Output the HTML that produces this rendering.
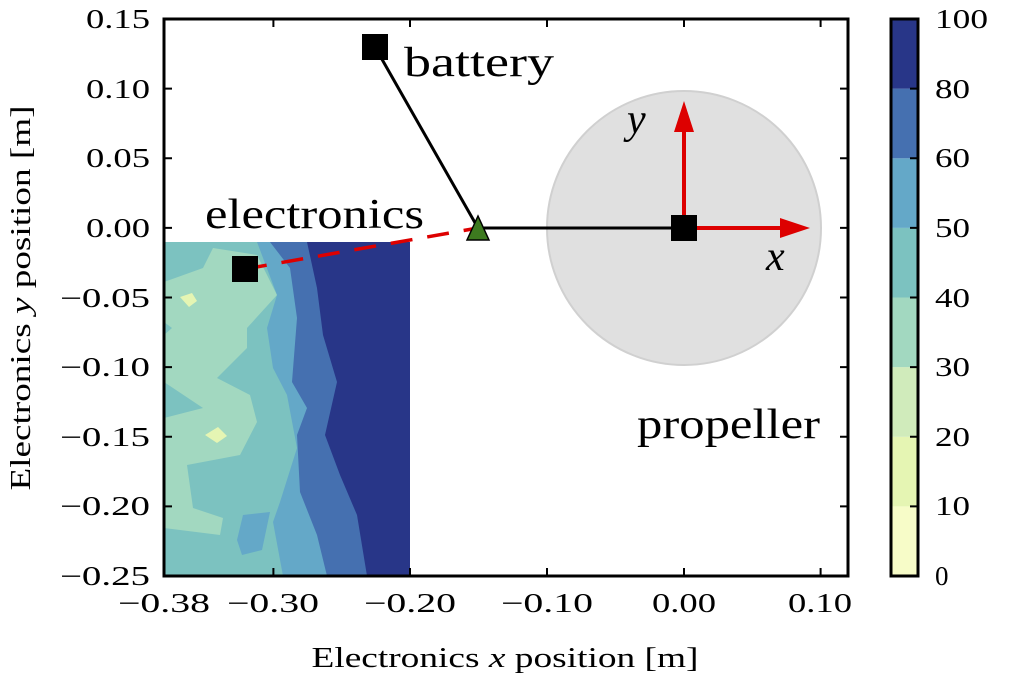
<!DOCTYPE html>
<html><head><meta charset="utf-8"><style>
html,body{margin:0;padding:0;background:#fff}
text{font-family:"Liberation Serif",serif;fill:#000}
</style></head><body>
<svg width="1024" height="680" viewBox="0 0 1024 680" xmlns="http://www.w3.org/2000/svg">
<defs><clipPath id="c"><rect x="164" y="242" width="246" height="334"/></clipPath></defs>
<g clip-path="url(#c)">
<rect x="164" y="242" width="246" height="334" fill="#7cc2c0"/>
<polygon fill="#a2d8c0" points="164,282 203,268 213,248 257,255 277,295 247,328 247,348 217,378 250,395 257,422 240,455 187,465 193,508 223,518 220,535 164,528"/>
<polygon fill="#7cc2c0" points="164,382 203,408 164,418"/>
<polygon fill="#7cc2c0" points="164,322 172,328 164,335"/>
<polygon fill="#e5f5b3" points="180,297 192,293 197,301 189,307"/>
<polygon fill="#e5f5b3" points="205,435 218,427 227,436 217,443"/>
<polygon fill="#64a8c8" points="257,242 410,242 410,576 283,576 273,522 280,502 297,448 287,395 273,368 267,328 277,295"/>
<polygon fill="#64a8c8" points="243,515 270,512 262,550 242,555 237,540"/>
<polygon fill="#4570b0" points="270,242 410,242 410,576 327,576 317,535 300,492 297,435 307,408 292,382 297,318 290,268"/>
<polygon fill="#283688" points="307,242 410,242 410,576 367,576 357,515 340,475 325,435 337,382 323,335 317,288"/>
</g>
<circle cx="684" cy="228" r="137" fill="#e0e0e0" stroke="#d0d0d0" stroke-width="2"/>
<polyline points="375,47 478,228 684,228" fill="none" stroke="#000" stroke-width="3"/>
<line x1="245" y1="269" x2="478" y2="228" stroke="#dd0000" stroke-width="3.5" stroke-dasharray="22,15"/>
<line x1="684" y1="228" x2="782" y2="228" stroke="#dd0000" stroke-width="4"/>
<polygon points="780,218 810,228 780,238" fill="#dd0000"/>
<line x1="684" y1="228" x2="684" y2="130" stroke="#dd0000" stroke-width="4"/>
<polygon points="674,132 684,101 694,132" fill="#dd0000"/>
<rect x="362" y="34" width="26" height="26" fill="#000"/>
<rect x="232" y="256" width="26" height="26" fill="#000"/>
<rect x="671" y="215" width="26" height="26" fill="#000"/>
<polygon points="478,216 467,240 489,240" fill="#3d7a1f" stroke="#000" stroke-width="1.5"/>
<text x="404" y="76" font-size="42" textLength="150" lengthAdjust="spacingAndGlyphs">battery</text>
<text x="205" y="228" font-size="42" textLength="219" lengthAdjust="spacingAndGlyphs">electronics</text>
<text x="637" y="438" font-size="42" textLength="183" lengthAdjust="spacingAndGlyphs">propeller</text>
<text x="627" y="133" font-size="42" font-style="italic">y</text>
<text x="766" y="270" font-size="42" font-style="italic">x</text>
<rect x="164" y="19" width="684" height="557" fill="none" stroke="#000" stroke-width="3"/>
<g stroke="#000" stroke-width="2">
<path d="M164,576v-8M273.4,576v-8M410,576v-8M547,576v-8M684,576v-8M820.6,576v-8M164,19v8M273.4,19v8M410,19v8M547,19v8M684,19v8M820.6,19v8"/>
<path d="M164,19h8M164,88.6h8M164,158.3h8M164,227.9h8M164,297.5h8M164,367.1h8M164,436.8h8M164,506.4h8M848,19h-8M848,88.6h-8M848,158.3h-8M848,227.9h-8M848,297.5h-8M848,367.1h-8M848,436.8h-8M848,506.4h-8"/>
</g>
<g font-size="27" text-anchor="middle">
<text x="164" y="612" textLength="92" lengthAdjust="spacingAndGlyphs">−0.38</text><text x="273" y="612" textLength="92" lengthAdjust="spacingAndGlyphs">−0.30</text><text x="410" y="612" textLength="92" lengthAdjust="spacingAndGlyphs">−0.20</text><text x="547" y="612" textLength="92" lengthAdjust="spacingAndGlyphs">−0.10</text><text x="684" y="612" textLength="64" lengthAdjust="spacingAndGlyphs">0.00</text><text x="820" y="612" textLength="64" lengthAdjust="spacingAndGlyphs">0.10</text>
</g>
<g font-size="27" text-anchor="end">
<text x="150" y="28" textLength="64" lengthAdjust="spacingAndGlyphs">0.15</text><text x="150" y="98" textLength="64" lengthAdjust="spacingAndGlyphs">0.10</text><text x="150" y="167" textLength="64" lengthAdjust="spacingAndGlyphs">0.05</text><text x="150" y="237" textLength="64" lengthAdjust="spacingAndGlyphs">0.00</text><text x="150" y="307" textLength="90" lengthAdjust="spacingAndGlyphs">−0.05</text><text x="150" y="376" textLength="90" lengthAdjust="spacingAndGlyphs">−0.10</text><text x="150" y="446" textLength="90" lengthAdjust="spacingAndGlyphs">−0.15</text><text x="150" y="515" textLength="90" lengthAdjust="spacingAndGlyphs">−0.20</text><text x="150" y="585" textLength="90" lengthAdjust="spacingAndGlyphs">−0.25</text>
</g>
<text x="505" y="667" font-size="28" text-anchor="middle" textLength="387" lengthAdjust="spacingAndGlyphs">Electronics <tspan font-style="italic">x</tspan> position [m]</text>
<text transform="translate(30,298) rotate(-90)" font-size="28" text-anchor="middle" textLength="385" lengthAdjust="spacingAndGlyphs">Electronics <tspan font-style="italic">y</tspan> position [m]</text>
<g>
<rect x="891" y="506.4" width="27" height="69.6" fill="#f7fcc8"/>
<rect x="891" y="436.8" width="27" height="69.6" fill="#e5f5b3"/>
<rect x="891" y="367.1" width="27" height="69.7" fill="#d0ebbb"/>
<rect x="891" y="297.5" width="27" height="69.6" fill="#a2d8c0"/>
<rect x="891" y="227.9" width="27" height="69.6" fill="#7cc2c0"/>
<rect x="891" y="158.3" width="27" height="69.6" fill="#64a8c8"/>
<rect x="891" y="88.6" width="27" height="69.7" fill="#4570b0"/>
<rect x="891" y="19" width="27" height="69.6" fill="#283688"/>
<rect x="891" y="19" width="27" height="557" fill="none" stroke="#000" stroke-width="3"/>
<path stroke="#000" stroke-width="2" d="M918,88.6h-8M918,158.3h-8M918,227.9h-8M918,297.5h-8M918,367.1h-8M918,436.8h-8M918,506.4h-8"/>
</g>
<g font-size="27">
<text x="935" y="28" textLength="53" lengthAdjust="spacingAndGlyphs">100</text><text x="935" y="98" textLength="35" lengthAdjust="spacingAndGlyphs">80</text><text x="935" y="167" textLength="35" lengthAdjust="spacingAndGlyphs">60</text><text x="935" y="237" textLength="35" lengthAdjust="spacingAndGlyphs">50</text><text x="935" y="307" textLength="35" lengthAdjust="spacingAndGlyphs">40</text><text x="935" y="376" textLength="35" lengthAdjust="spacingAndGlyphs">30</text><text x="935" y="446" textLength="35" lengthAdjust="spacingAndGlyphs">20</text><text x="935" y="515" textLength="35" lengthAdjust="spacingAndGlyphs">10</text><text x="935" y="585">0</text>
</g>
</svg>
</body></html>
